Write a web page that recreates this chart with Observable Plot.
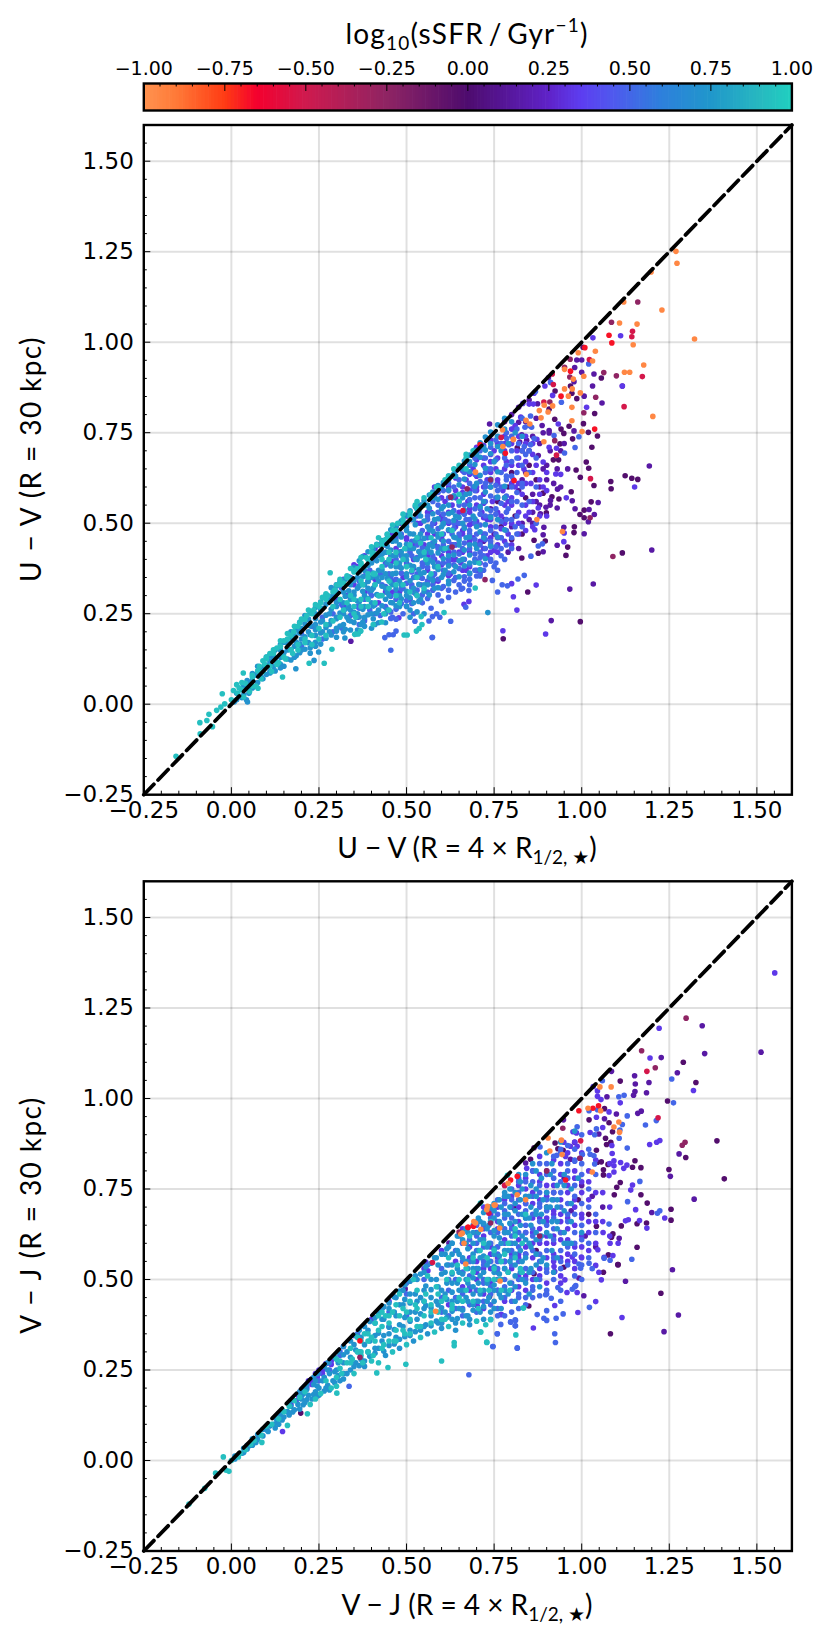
<!DOCTYPE html>
<html><head><meta charset="utf-8">
<script src="https://cdn.jsdelivr.net/npm/d3@7"></script>
<script src="https://cdn.jsdelivr.net/npm/@observablehq/plot@0.6"></script>
<style>
html,body{margin:0;padding:0;background:#fff}
#page{position:relative;width:831px;height:1642px;overflow:hidden}
#page svg{display:block}
.lab{position:absolute;font-family:Lato,"DejaVu Sans",sans-serif;font-size:28px;line-height:30px;white-space:nowrap;color:#000}
.lab sub{font-size:19px;line-height:0;vertical-align:-6px}
.lab sup{font-size:19px;line-height:0;vertical-align:12px}
</style></head><body><div id="page"></div>
<script>
const majorTicks=[-.25,0,.25,.5,.75,1,1.25,1.5];
const minorTicks=[-.2,-.15,-.1,-.05,.05,.1,.15,.2,.3,.35,.4,.45,.55,.6,.65,.7,.8,.85,.9,.95,1.05,1.1,1.15,1.2,1.3,1.35,1.4,1.45,1.55,1.6];
const barMajor=[-1,-.75,-.5,-.25,0,.25,.5,.75,1];
const barMinor=[-.95,-.9,-.85,-.8,-.7,-.65,-.6,-.55,-.45,-.4,-.35,-.3,-.2,-.15,-.1,-.05,.05,.1,.15,.2,.3,.35,.4,.45,.55,.6,.65,.7,.8,.85,.9,.95];
const colorDomain=[-1,-.9,-.75,-.65,-.5,-.25,0,.25,.35,.45,.6,.75,.9,1];
const colorRange=["#ff9350","#ff7a38","#ff3c14","#f4002e","#cf1a4e","#8f2463","#4e0c6e","#5f22c8","#5d3df0","#4f59ee","#2d80dc","#2097cb","#27b8c0","#20d0c0"];
const levelValues=[-.95,-.68,-.52,-.25,-.02,.15,.33,.5,.72,.93];

// Panel 1: U-V, flat x,y lists per sSFR level
const uvOrange=[1.269,1.251,1.272,1.218,1.198,1.194,1.12,1.111,1.229,1.089,1.108,1.053,1.158,1.05,1.322,1.009,1.147,.993,1.039,.975,.99,.971,1.031,.948,.951,.925,1.006,.906,1.122,.917,1.137,.917,1.177,.937,.976,.898,.951,.871,.973,.871,.996,.86,.962,.851,.917,.824,.893,.826,.972,.82,.879,.811,.904,.807,1.203,.795,.884,.791,.972,.783,.841,.784,.852,.774,1.001,.753,.774,.758,.805,.732,.892,.725,.775,.712,.872,.51,.945,.477,.842,.635,.805,.731,.697,.641];
const uvRed=[1.078,1.019,1.086,.998,1.009,.985,.968,.92,.941,.851,1.037,.76,.71,.717,.782,.693,.807,.618];
const uvCrimson=[1.145,1.03,1.143,1.015,1.022,.952,.916,.912,1.173,.905,.919,.883,.892,.835,1.121,.822,.77,.737,.928,.688,1.025,.623,.661,.535];
const uvMaroon=[1.16,1.111,1.085,1.055,.967,.953,.951,.931,1.063,.916,1.099,.907,.966,.904,.909,.835,1.04,.848,1.006,.805,.923,.728,1.024,.515,1.089,.408,.724,.344,.63,.434,.626,.572,.673,.595,.74,.62];
const uvDpurple=[1.004,.986,1.056,.901,.968,.879,.924,.865,.972,.859,.986,.844,.907,.815,1.037,.803,.923,.787,1.005,.775,.964,.768,.941,.76,1.019,.751,.949,.748,1.045,.741,.974,.733,.938,.719,1.029,.71,.816,.708,.934,.675,.919,.675,1.013,.669,1.02,.652,.984,.647,1.124,.631,1.143,.624,1.16,.621,.996,.627,1.083,.615,1.084,.595,1.035,.604,.97,.587,.89,.583,.935,.567,.915,.573,1.027,.559,1.007,.536,.995,.524,1.007,.515,.899,.529,.979,.49,.978,.474,.896,.451,.96,.434,.864,.453,.955,.411,.876,.417,.829,.404,1.116,.418,.846,.31,.996,.228,.776,.181,.83,.7,.85,.66,.8,.64,.87,.62,.79,.6,.84,.57,.81,.52,.77,.49,.8,.455,.83,.47,.76,.56];
const uvPurple=[.986,.951,1,.951,.98,.93,1,.917,1.035,.912,.905,.902,.978,.891,1.031,.879,1.116,.879,1.007,.851,1.058,.832,.874,.83,.82,.779,.737,.774,.887,.77,.907,.756,.978,.755,.907,.749,.829,.744,.843,.729,.823,.724,1.193,.658,.931,.594,.973,.562,.911,.563,1.047,.557,.93,.542,.898,.544,.981,.54,.882,.526,1.021,.538,1.036,.524,1.019,.504,.949,.489,.892,.489,1.007,.471,.89,.468,.93,.439,.89,.421,1.2,.426,1.033,.332,.966,.318,.913,.231,.341,.174,.876,.687,.85,.7,.89,.65,.83,.62,.86,.58,.88,.55,.82,.59,.85,.51,.83,.5,.78,.51,.82,.43,.75,.47,.79,.42,.84,.64,.86,.53,.8,.49,.78,.57,.74,.54,.72,.45,
.86,.5,.87,.56,.88,.6,.9,.66,.91,.7,.92,.61,.93,.65,.88,.72,.89,.75,.9,.62,.86,.74,.84,.78,.87,.79,.8,.8,.82,.82,.85,.84,.78,.78,.94,.7,.96,.65,.95,.72,.91,.55,.94,.6];
const uvViolet=[1.111,1.018,1.032,1.012,.895,.879,1.116,.879,.864,.859,.917,.853,.832,.831,.85,.829,.862,.829,1.014,.82,.826,.793,.933,.774,.804,.76,.872,.732,.907,.71,.928,.707,.89,.669,.926,.636,.94,.635,1.151,.6,.956,.57,.876,.542,.866,.482,.95,.473,.949,.449,.87,.329,.805,.297,.8,.333,.815,.26,.897,.194,.775,.203,.664,.276,.678,.284,.478,.239,
.33,.3,.36,.24,.39,.34,.42,.28,.44,.39,.46,.31,.47,.43,.49,.35,.5,.46,.51,.29,.52,.4,.53,.5,.54,.33,.55,.44,.56,.37,.57,.53,.58,.47,.59,.34,.6,.41,.61,.56,.62,.5,.625,.36,.63,.44,.64,.59,.65,.53,.655,.39,.66,.47,.67,.62,.675,.56,.68,.42,.685,.5,.69,.65,.7,.59,.7,.37,.71,.45,.715,.53,.72,.68,.73,.62,.73,.41,.74,.49,.745,.56,.75,.7,.755,.65,.76,.44,.77,.52,.775,.59,.78,.74,.785,.67,.79,.47,.8,.55,.805,.62,.81,.77,.815,.7,.82,.5,.83,.58,.835,.65,.84,.74,.85,.53,.855,.61,.86,.69,
.3,.31,.36,.38,.42,.44,.47,.49,.53,.54,.58,.6,.64,.645,.7,.71,.6,.52,.64,.49,.68,.53,.72,.58,.76,.62,.66,.585,.7,.63,.74,.67,.63,.4,.67,.37,.71,.39,.75,.425,.79,.56,.82,.66,.6,.46,.63,.55,.65,.42,.69,.46,.73,.51,.77,.485,.81,.6,.84,.55,.87,.66,.89,.6];
const uvBlue=[1.02,.94,.911,.889,.868,.864,.942,.834,.854,.796,.857,.765,.838,.765,.921,.742,.992,.739,.864,.734,.786,.734,.792,.717,.854,.717,.836,.712,.981,.709,.951,.694,.855,.409,.888,.443,.876,.437,.836,.356,.818,.346,.788,.327,.773,.33,.76,.31,.626,.229,.573,.184,.455,.149,.47,.202,.438,.184,.45,.192,.462,.192,.524,.229,.564,.23,.595,.24,.574,.242,.586,.25,.455,.237,.669,.268,.656,.318,.678,.314,.7,.354,.71,.354,.745,.342,.574,.185,
.36,.27,.38,.23,.4,.3,.41,.25,.43,.33,.44,.27,.45,.36,.46,.24,.47,.29,.48,.38,.49,.32,.5,.27,.51,.42,.52,.35,.53,.3,.54,.45,.55,.39,.56,.31,.57,.49,.58,.36,.59,.43,.6,.32,.61,.51,.62,.39,.63,.47,.64,.35,.65,.56,.66,.43,.67,.51,.68,.36,.69,.6,.7,.47,.71,.54,.72,.41,.73,.65,.74,.52,.75,.38,.76,.59,.77,.46,.78,.68,.79,.54,.8,.63,.81,.49,.82,.72,.83,.61,.84,.69,.85,.77,
.545,.38,.575,.41,.605,.44,.635,.5,.665,.55,.695,.57,.725,.61,.755,.54,.785,.62,.815,.56,.56,.52,.59,.55,.62,.59,.65,.47,.68,.47,.71,.42,.74,.44,.77,.41,.8,.7,.83,.79,.515,.33,.545,.28,.575,.33,.605,.37,.635,.42,.665,.34,.695,.4,.725,.47,.755,.49,.785,.51,
.57,.265,.6,.285,.62,.295,.64,.31,.66,.32,.68,.33,.72,.37,.74,.395,.76,.37,.78,.4,.8,.43,.52,.25,.49,.25,.47,.235];
const uvAzure=[.008,.006,.03,.018,.046,.006,.043,.012,.03,.04,.05,.03,.05,.06,.07,.05,.07,.08,.09,.07,.09,.1,.11,.09,.11,.12,.12,.105,.12,.13,.14,.1,.14,.13,.14,.15,.16,.125,.16,.15,.16,.17,.184,.098,.18,.13,.18,.16,.18,.19,.2,.15,.2,.18,.2,.21,.225,.141,.236,.121,.22,.17,.22,.2,.22,.235,.249,.144,.24,.16,.24,.19,.24,.22,.24,.25,.26,.2,.26,.23,.26,.265,.28,.2,.28,.22,.28,.25,.28,.29,.3,.21,.3,.24,.3,.27,.3,.31,.324,.183,.32,.22,.32,.25,.32,.28,.32,.31,.34,.23,.34,.26,.34,.29,.34,.33,.36,.25,.36,.285,.36,.32,.36,.35,.38,.24,.38,.27,.38,.3,.38,.33,.38,.37,.4,.25,.4,.28,.4,.315,.4,.35,.4,.39,.42,.26,.42,.3,.42,.34,.42,.37,.42,.41,.44,.25,.44,.29,.44,.32,.44,.36,.44,.42,.46,.28,.46,.33,.46,.36,.46,.41,.46,.45,.48,.27,.48,.3,.48,.34,.48,.39,.48,.44,.48,.47,.5,.3,.5,.36,.5,.41,.5,.43,.5,.49,.52,.28,.52,.32,.52,.38,.52,.43,.52,.47,.52,.51,.54,.29,.54,.36,.54,.41,.54,.47,.54,.52,.54,.55,.56,.33,.56,.39,.56,.43,.56,.49,.56,.55,.58,.32,.58,.38,.58,.45,.58,.51,.58,.57,.6,.35,.6,.43,.6,.49,.6,.54,.6,.6,.62,.34,.62,.41,.62,.55,.62,.62,.64,.38,.64,.46,.64,.52,.64,.63,.66,.4,.66,.5,.66,.57,.66,.65,.68,.39,.68,.44,.68,.55,.68,.67,.7,.43,.7,.49,.7,.61,.7,.69,.72,.46,.72,.56,.72,.71,.74,.6,.74,.72,.76,.51,.76,.74,.78,.57,.78,.76,.8,.78,.732,.253,.605,.5,.63,.57,.67,.46,.73,.54,.75,.67,.77,.7,.79,.72,.81,.75,.83,.74,.33,.24,.35,.31,.37,.22,.39,.32,.41,.22,.43,.35,.45,.3,.47,.38,.49,.41,.51,.26,.53,.4,.55,.33,.57,.42,.59,.47,.61,.37,.63,.53,.65,.44,.67,.58,.69,.52,
.3,.185,.32,.2,.34,.205,.36,.205,.38,.215,.4,.21,.42,.225,.44,.225,.51,.24,.53,.255,.55,.25];
const uvTeal=[-.158,-.144,-.089,-.082,-.09,-.051,-.054,-.062,-.07,-.045,-.064,-.028,-.042,-.017,-.026,.029,-.03,-.008,-.019,.001,.006,.038,.015,.054,.034,.086,.076,.044,.146,.075,.222,.113,.265,.113,.287,.152,.282,.363,.352,.193,.362,.194,.369,.202,.493,.191,.502,.191,.528,.202,.536,.209,.544,.22,.542,.242,.607,.253,.429,.227,.405,.22,.369,.202,.355,.194,.696,.321,.707,.39,
0,.012,.018,.03,.022,.045,.035,.02,.04,.058,.052,.035,.06,.075,.07,.05,.075,.092,.085,.07,.095,.11,.1,.125,.115,.09,.12,.14,.135,.115,.14,.16,.155,.125,.16,.18,.175,.14,.178,.2,.19,.165,.195,.225,.21,.18,.215,.245,.23,.165,.235,.26,.25,.21,.255,.28,.27,.19,.275,.3,.29,.23,.295,.315,.31,.335,.32,.26,.33,.355,.34,.3,.35,.37,.355,.24,.37,.39,.375,.33,.385,.405,.39,.27,.4,.42,.405,.36,.415,.44,.42,.3,.43,.45,.435,.25,.445,.47,.45,.34,.46,.48,.47,.39,.475,.5,.48,.28,.49,.51,.495,.43,.51,.53,.515,.37,.525,.55,.53,.3,.54,.445,.55,.57,.555,.4,.57,.58,.585,.6,.6,.47,.62,.63,.635,.65,.65,.56,.67,.68,.69,.7,.45,.4,.43,.38,.41,.33,.47,.33,.5,.38,.39,.36,.37,.29,.35,.27,.34,.345,.44,.455,.4,.405,.36,.375,.32,.335,
.08,.105,.12,.15,.16,.195,.2,.235,.24,.275,.27,.305,.31,.345,.34,.375,.37,.405,.4,.435,.42,.46,.46,.495,.49,.525,.53,.56,.3,.33,.26,.295,.22,.26,.18,.215,.14,.175,.1,.13];
// Panel 1, dense core read column by column: [x, y, y, ...]
const uvAzureCols=[[.015,.012,.03],[.035,.025,.05],[.045,.045,.065],[.06,.045,.066,.085],[.075,.06,.087,.105],[.085,.076,.1],[.1,.082,.107,.13],[.11,.086,.112,.135],[.125,.092,.121,.15],[.14,.11,.136,.165],[.15,.105,.142,.171],[.17,.122,.151,.183,.2],[.185,.134,.172,.205],[.195,.142,.166,.197,.226],[.21,.152,.186,.222,.245],[.225,.156,.192,.216,.252],[.24,.171,.206,.236,.267],[.255,.166,.197,.227,.261,.282],[.27,.182,.212,.246,.276,.301],[.285,.191,.231,.262,.296,.322],[.3,.202,.236,.281,.326],[.31,.216,.252,.287,.338],[.325,.207,.262,.298,.345],[.335,.232,.271,.313,.352],[.35,.226,.254,.301,.342,.378],[.365,.241,.283,.327,.366,.396],[.375,.226,.262,.312,.352,.408],[.39,.247,.292,.339,.383,.421],[.405,.236,.271,.321,.362,.428],[.415,.252,.303,.351,.396,.442],[.43,.272,.326,.371,.414,.452],[.445,.261,.309,.347,.392,.436,.468],[.455,.281,.336,.382,.426,.482],[.47,.272,.318,.362,.411,.451,.492],[.485,.291,.329,.376,.422,.462,.506],[.5,.271,.312,.352,.398,.442,.48,.522],[.51,.294,.341,.384,.431,.471,.534],[.525,.306,.351,.401,.452,.496,.546],[.535,.284,.331,.372,.422,.462,.532],[.55,.312,.364,.412,.458,.506,.562],[.565,.302,.351,.398,.441,.482,.541,.578],[.575,.342,.392,.436,.478,.526,.586],[.59,.322,.372,.418,.462,.512,.566,.604],[.605,.358,.402,.451,.498,.546,.612],[.62,.332,.382,.432,.482,.526,.592,.63],[.635,.366,.412,.462,.508,.576,.636],[.65,.352,.396,.452,.516,.606,.652],[.665,.382,.426,.486,.536,.622,.672],[.68,.362,.412,.462,.582,.642,.688],[.695,.392,.442,.512,.602,.662,.702],[.71,.372,.476,.546,.632,.682,.722],[.725,.402,.496,.586,.652,.702,.738],[.74,.436,.516,.622,.692,.752],[.76,.462,.572,.642,.712,.772],[.78,.482,.602,.692,.79]];
const uvBlueCols=[[.2,.16,.195],[.23,.165,.215],[.26,.18,.24],[.29,.2,.25,.3],[.315,.21,.275,.32],[.34,.245,.3,.35],[.365,.22,.265,.34],[.38,.235,.29,.355],[.395,.26,.31,.37],[.41,.275,.33,.4],[.425,.245,.3,.36,.42],[.44,.268,.325,.385],[.455,.255,.298,.35,.41],[.47,.262,.305,.345,.4,.46],[.485,.278,.318,.362,.41,.47],[.5,.286,.334,.384,.43,.5],[.515,.278,.322,.365,.41,.45,.51],[.53,.315,.36,.405,.44,.52],[.545,.302,.348,.39,.432,.48,.55],[.56,.292,.338,.378,.42,.46,.51],[.575,.315,.355,.402,.446,.5,.56],[.59,.302,.345,.39,.435,.485,.53,.585],[.605,.325,.39,.425,.47,.525,.59],[.62,.315,.362,.4,.45,.505,.57,.61],[.635,.342,.385,.44,.485,.535,.6],[.65,.33,.375,.415,.46,.5,.55,.62],[.665,.352,.4,.445,.49,.525,.58,.64],[.68,.345,.385,.43,.48,.51,.565,.61,.66],[.695,.37,.415,.455,.5,.54,.59,.635,.68],[.71,.36,.405,.44,.495,.525,.57,.615,.7],[.725,.385,.43,.455,.52,.56,.6,.64,.68],[.74,.4,.45,.48,.535,.575,.615,.65,.71],[.755,.39,.435,.47,.525,.57,.605,.675,.73],[.77,.43,.46,.505,.555,.6,.64,.72],[.785,.44,.48,.53,.575,.63,.66,.75],[.8,.46,.51,.56,.6,.67,.74],[.815,.47,.52,.585,.64,.68,.76],[.83,.49,.55,.6,.66,.7],[.85,.56,.64,.7],[.87,.5,.6,.68]];
const uvVioletCols=[[.3,.29,.33],[.32,.27,.345],[.35,.33,.385],[.38,.31,.41],[.41,.345,.43],[.44,.31,.44],[.46,.34,.395,.47],[.48,.31,.42,.5],[.5,.39,.455,.52],[.52,.31,.375,.44],[.54,.35,.42,.5],[.56,.34,.41,.47,.53],[.58,.34,.4,.44,.5,.58],[.6,.385,.455,.51,.57],[.62,.355,.42,.48,.53,.6],[.64,.4,.44,.505,.57,.625],[.66,.37,.42,.48,.53,.6,.645],[.68,.38,.45,.495,.54,.59,.635],[.7,.395,.44,.505,.55,.6,.675],[.72,.43,.47,.515,.555,.6,.66,.715],[.74,.42,.46,.51,.6,.64,.69,.73],[.76,.42,.46,.53,.57,.61,.68,.72],[.78,.45,.5,.55,.6,.65,.7,.72],[.8,.44,.5,.57,.61,.66,.72,.76],[.82,.47,.53,.61,.68,.74],[.84,.48,.52,.61,.67,.72],[.86,.49,.56,.64,.72],[.88,.52,.58,.62],[.9,.52,.59,.64]];
const uvTealCols=[[.03,.04,.06],[.06,.08,.05],[.09,.09,.12],[.11,.105,.14],[.13,.11,.155],[.15,.13,.175],[.17,.15,.19],[.19,.15,.215],[.21,.17,.235],[.23,.19,.25],[.25,.18,.27],[.27,.22,.29],[.29,.27,.31],[.31,.24,.29,.33],[.33,.28,.35],[.35,.25,.29,.365],[.37,.27,.34,.385],[.39,.29,.35,.4],[.41,.28,.36,.415],[.43,.3,.4,.44],[.45,.26,.32,.42,.46],[.47,.3,.42,.48],[.49,.33,.4,.5],[.51,.31,.44,.52],[.53,.35,.46,.54],[.55,.32,.42,.55],[.57,.36,.46,.57],[.59,.38,.6],[.61,.43,.62],[.63,.48,.63],[.65,.58,.66],[.67,.65,.69]];

// Panel 2: V-J
const vjOrange=[1.052,1.032,1.084,1.032,1.018,.973,1.054,.966,1.106,.935,1.092,.921,1.108,.907,.904,.891,.942,.885,.909,.855,.944,.845,1.03,.797,.655,.625,.697,.656,.729,.693,.731,.702,.712,.639,.766,.642,.753,.706,.669,.543,.767,.496,.583,.412,.692,.66,.79,.766,.816,.734,.75,.706,.659,.628,.664,.6,.84,.72];
const vjRed=[.992,.966,1.032,.973,1.048,.98,.954,.775,.676,.644,.691,.647,.675,.644,.816,.785,.797,.775,.367,.331];
const vjCrimson=[1.186,1.075,.997,.883,1.218,.947,.574,.547,.735,.683,.78,.76];
const vjMaroon=[1.298,1.222,1.171,1.132,1.21,1.085,.946,.918,1.287,.871,1.295,.879,.65,.631,.74,.656,.367,.285,.995,.835,.9,.8,.88,.62];
const vjDpurple=[1.29,1.1,1.11,1.048,1.326,1.044,1.245,.993,1.065,.972,1.021,.941,1.078,.933,1.088,.908,1.068,.89,.98,.879,1.083,.879,1.071,.873,1.386,.883,.864,.864,.924,.877,.932,.861,.947,.857,1.042,.857,1.297,.837,.854,.832,.995,.835,1.152,.828,1.056,.825,1.045,.824,1.075,.818,1.145,.81,1.169,.809,1.249,.804,1.407,.778,1.062,.803,1.062,.789,1.11,.768,1.1,.755,1.169,.734,1.093,.734,1.187,.711,1.255,.694,1.255,.664,1.113,.648,1.158,.654,1.185,.656,1.042,.647,1.089,.626,1.085,.617,1.158,.589,1.076,.568,1.104,.541,1.062,.52,1.103,.541,1.226,.462,1.082,.35,.949,.534,.849,.427,.737,.453,.864,.516,.198,.131,.807,.697,.9,.7,.94,.63,.99,.72,1.02,.68,.87,.58];
const vjPurple=[1.512,1.128,1.344,1.201,1.351,1.124,1.227,1.113,1.273,1.071,1.085,1.075,1.151,1.063,1.153,1.04,1.192,1.044,1.152,1.019,1.148,1.009,1.185,1.016,1.072,1.005,1.099,.957,1.16,.959,1.17,.965,1.065,.944,.948,.941,1.049,.902,1.278,.847,.84,.822,.968,.832,1.253,.785,1.321,.722,1.2,.685,1.107,.614,1.259,.527,1.125,.495,1.276,.402,1.235,.356,1.006,.455,.992,.504,.621,.601,.496,.474,.95,.78,1.0,.76,.92,.74,.97,.69,1.03,.73,1.06,.7,1.01,.62,1.04,.59];
const vjViolet=[1.551,1.347,1.221,1.194,1.195,1.112,1.319,1.022,1.033,1.033,1.045,1.021,1.045,1.006,1.055,.997,1.11,.988,1.078,.963,1.042,.948,1.024,.906,.975,.908,.985,.905,1.086,.87,1.194,.873,1.214,.879,1.223,.884,.949,.879,.968,.868,.987,.868,1.087,.848,.843,.807,.954,.84,1.092,.828,1.111,.823,1.129,.816,1.092,.814,1.12,.807,1.078,.787,1.092,.797,1.145,.761,1.14,.747,1.154,.693,1.237,.67,1.125,.662,1.133,.665,1.165,.663,1.186,.642,1.061,.63,1.081,.6,1.104,.6,1.046,.582,1.089,.566,1.04,.539,1.049,.52,1.064,.561,1.056,.499,.973,.562,.999,.562,.921,.536,.923,.522,.952,.499,1.115,.395,1.04,.439,.989,.409,.987,.464,.958,.464,.923,.428,.862,.366,.771,.403,.702,.427,.769,.403,.146,.08,.555,.548,.561,.524,.434,.424,
.21,.205,.22,.22,.23,.225,.24,.24,.25,.25,.2,.195,.19,.18,.26,.255,.27,.268,.185,.165,.32,.315,.35,.345,.4,.39,.45,.44,.55,.53,.6,.58,.66,.64,.72,.7,.78,.76,
.62,.43,.66,.48,.7,.52,.74,.57,.78,.61,.82,.66,.86,.71,.9,.76,.94,.82,.64,.55,.68,.59,.72,.62,.76,.66,.8,.7,.84,.75,.88,.79,.92,.69,.96,.74,.98,.8,.76,.47,.8,.53,.84,.59,.88,.64,.92,.6,.96,.64,1,.67,1.02,.77,.84,.47,.88,.51,.92,.55,.96,.57,1,.59,1.02,.63,.9,.49,.94,.51,.98,.55,.72,.42,.78,.44,.82,.51,.86,.56,.9,.6,.94,.68,.98,.7,1,.74,.7,.5,.74,.53,.78,.53,.82,.57,.86,.63,.9,.67];
const vjBlue=[1.257,1.054,1.059,1.049,1.106,1.005,1.121,1.009,1.262,.988,1.021,.966,1.045,.969,1.13,.952,1.213,.939,1.182,.927,.987,.922,1.116,.928,1.109,.913,1.042,.916,1.037,.9,1.107,.89,1.13,.863,.881,.866,1.024,.846,1.035,.842,.929,.843,1.002,.845,.98,.827,1.037,.819,1.166,.771,1.131,.715,1.216,.683,1.223,.69,1.078,.653,1.064,.559,1.081,.553,1.143,.556,1.021,.545,.992,.543,.997,.531,1.022,.423,.983,.483,.973,.473,.932,.478,.947,.405,.927,.393,.923,.35,.925,.326,.9,.414,.9,.387,.892,.393,.873,.403,.816,.311,.759,.35,.746,.315,.797,.383,.811,.387,.811,.372,.769,.376,.897,.458,.913,.448,.678,.237,.336,.205,.747,.315,.816,.31,.759,.35,.81,.372,.797,.382,.81,.389,
.7,.44,.74,.46,.78,.48,.82,.45,.86,.48,.9,.52,.94,.55,.98,.6,.66,.42,.7,.58,.74,.63,.78,.67,.82,.72,.86,.77,.9,.82,.94,.85,.98,.86,1,.9,.76,.55,.8,.6,.84,.65,.88,.7,.92,.74,.96,.78,1,.82,.72,.5,.76,.59,.8,.64,.84,.69,.88,.74,.92,.78,.96,.82,.6,.41,.64,.45,.68,.51,.72,.55,.76,.52,.8,.56,.84,.53,.88,.57,.92,.64,.96,.68,.98,.76,.62,.5,.66,.55,.7,.62,.74,.67,.78,.71,.82,.77,.86,.62,.9,.72,.94,.74,.36,.35,.43,.42,.5,.49,.56,.54,
.76,.4,.78,.4,.8,.41,.82,.42,.84,.43,.86,.45,.88,.455,.9,.46,.94,.44,.98,.48,1,.5,1.03,.53];
const vjAzure=[.03,.02,.05,.04,.07,.05,.08,.07,.1,.085,.11,.095,.12,.1,.13,.11,.14,.125,.15,.12,.16,.135,.17,.15,.18,.14,.19,.155,.2,.17,.21,.16,.22,.18,.23,.17,.24,.19,.24,.22,.25,.2,.26,.22,.27,.2,.28,.24,.29,.22,.3,.25,.31,.22,.32,.27,.33,.24,.33,.3,.35,.26,.35,.32,.37,.28,.37,.34,.39,.3,.39,.36,.41,.31,.41,.38,.43,.33,.43,.39,.45,.35,.45,.42,.47,.34,.47,.4,.47,.45,.49,.37,.49,.43,.49,.47,.51,.36,.51,.41,.51,.46,.53,.39,.53,.44,.53,.5,.55,.37,.55,.42,.55,.47,.55,.52,.57,.4,.57,.45,.57,.5,.59,.38,.59,.43,.59,.48,.59,.54,.61,.41,.61,.46,.61,.52,.61,.57,.63,.39,.63,.44,.63,.49,.63,.54,.63,.6,.65,.42,.65,.47,.65,.52,.65,.57,.65,.62,.67,.4,.67,.45,.67,.5,.67,.55,.67,.6,.67,.64,.69,.43,.69,.48,.69,.53,.69,.57,.69,.63,.71,.41,.71,.46,.71,.51,.71,.56,.71,.61,.71,.66,.73,.44,.73,.49,.73,.54,.73,.59,.73,.64,.73,.69,.75,.42,.75,.47,.75,.52,.75,.57,.75,.62,.75,.67,.75,.71,.77,.45,.77,.5,.77,.55,.77,.6,.77,.65,.77,.7,.79,.46,.79,.52,.79,.58,.79,.63,.79,.68,.79,.73,.81,.48,.81,.54,.81,.6,.81,.66,.81,.71,.83,.5,.83,.55,.83,.62,.83,.68,.83,.75,.85,.52,.85,.6,.85,.67,.85,.73,.87,.54,.87,.61,.87,.69,.87,.75,.89,.56,.89,.66,.89,.72,.91,.62,.91,.7,.91,.79,.93,.66,.93,.72,.95,.6,.95,.76,.97,.71,.99,.78,.88,.48,.92,.52,.96,.6,1.0,.63,.77,.42,.74,.41,.68,.39,.64,.38,.81,.44,.85,.46,
.58,.56,.62,.59,.66,.63,.7,.66,.74,.7,.78,.74,.82,.79,.86,.82,.9,.85,.94,.88,.98,.91,
.44,.29,.48,.31,.52,.33,.56,.35,.6,.365,.64,.36,.68,.375,.72,.39,.74,.39,.25,.18,.28,.195,.32,.225,.38,.26];
const vjTeal=[-.121,-.12,-.076,-.077,-.045,-.035,-.023,.01,-.007,-.03,-.015,-.027,.02,.01,.087,.05,.217,.129,.16,.097,.301,.186,.415,.242,.447,.257,.498,.266,.6,.275,.636,.317,.636,.326,.712,.355,.729,.326,.812,.347,.834,.421,.711,.711,.788,.788,.711,.355,.729,.327,.726,.375,.74,.389,.833,.421,
0,0,.015,.012,.025,.02,.04,.03,.055,.045,.065,.055,.085,.07,.1,.095,.115,.1,.135,.115,.15,.135,.165,.15,.18,.165,.195,.175,.21,.19,.225,.155,.24,.17,.255,.185,.27,.22,.285,.2,.3,.23,.315,.24,.33,.27,.345,.28,.36,.3,.375,.27,.39,.33,.405,.29,.42,.36,.435,.32,.45,.38,.465,.33,.48,.4,.495,.35,.51,.39,.525,.43,.54,.37,.555,.46,.57,.41,.585,.48,.6,.39,.6,.44,.615,.5,.63,.42,.645,.54,.66,.44,.675,.5,.69,.56,.705,.42,.72,.6,.735,.47,.75,.53,.765,.5,.78,.57,.795,.47,.81,.62,.825,.53,.84,.68,.3,.28,.36,.34,.42,.4,.48,.46,.52,.5,.37,.3,.43,.37,.5,.41,.56,.51,.62,.56,.68,.62,.74,.66,.44,.4,.46,.41,.38,.35,.4,.34,.47,.36,.53,.47,
.42,.27,.46,.3,.5,.32,.54,.34,.58,.355,.62,.37,.66,.38,.7,.385,.3,.205,.35,.24,.4,.275];
// Panel 2, dense core read column by column: [x, y, y, ...]
const vjAzureCols=[[.01,.004,.012],[.035,.022,.034],[.045,.032,.042],[.06,.042,.06],[.075,.058,.072],[.09,.068,.086],[.105,.08,.1],[.125,.09,.118],[.135,.1,.13],[.145,.112,.14],[.165,.126,.158],[.175,.134,.168],[.195,.142,.172,.19],[.205,.154,.184,.2],[.215,.168,.196,.21],[.235,.182,.21,.23],[.245,.178,.206,.24],[.265,.192,.23,.26],[.275,.208,.25,.27],[.295,.215,.245,.285],[.305,.235,.27,.3],[.32,.24,.292,.315],[.34,.25,.285,.33],[.355,.27,.305,.345],[.365,.262,.3,.36],[.38,.275,.32,.37],[.395,.288,.33,.384],[.41,.296,.345,.395],[.42,.31,.352,.408],[.435,.302,.345,.39,.425],[.45,.318,.368,.435],[.465,.322,.362,.41,.452],[.48,.335,.375,.43,.468],[.495,.342,.395,.445,.485],[.51,.345,.385,.435,.495],[.525,.356,.41,.46,.51],[.54,.36,.405,.45,.515],[.555,.375,.428,.482,.535],[.57,.372,.422,.472,.545],[.585,.385,.44,.5,.56],[.6,.38,.422,.47,.515,.57],[.615,.395,.445,.49,.54,.585],[.63,.412,.465,.515,.57,.6],[.645,.392,.44,.49,.53,.58,.62],[.66,.415,.47,.515,.56,.61],[.675,.4,.44,.49,.53,.585,.63],[.69,.415,.46,.505,.55,.6,.65],[.705,.44,.49,.53,.58,.63,.67],[.72,.425,.47,.52,.565,.61,.655,.685],[.735,.45,.5,.55,.6,.65,.7],[.75,.44,.485,.535,.585,.635,.69],[.765,.46,.515,.565,.615,.66,.72],[.78,.47,.53,.58,.63,.68,.73],[.795,.49,.55,.6,.655,.7,.75],[.81,.51,.57,.63,.69,.74],[.825,.52,.58,.65,.72,.77],[.84,.49,.56,.61,.67,.73,.79],[.855,.53,.59,.65,.7,.76],[.87,.5,.57,.63,.68,.73,.8],[.885,.55,.62,.68,.78],[.9,.54,.63,.7,.74],[.915,.58,.66,.72,.82],[.93,.56,.64,.7,.76],[.95,.63,.69,.79],[.97,.6,.66,.75]];
const vjBlueCols=[[.6,.38,.45,.53],[.62,.4,.47,.54],[.64,.42,.5,.58],[.66,.4,.46,.52,.6],[.68,.43,.48,.55,.61],[.7,.41,.47,.53,.6,.65],[.72,.44,.49,.54,.59,.65],[.74,.43,.48,.55,.6,.66,.69],[.76,.42,.47,.53,.57,.63,.68,.72],[.78,.45,.5,.55,.6,.64,.69,.73],[.8,.44,.49,.54,.58,.62,.67,.72,.75],[.82,.46,.5,.55,.59,.63,.68,.74,.78],[.84,.45,.5,.57,.63,.67,.71,.77],[.86,.47,.52,.58,.64,.68,.73,.8],[.88,.5,.55,.61,.66,.71,.76,.82],[.9,.47,.53,.58,.65,.69,.74,.79],[.92,.5,.56,.61,.67,.72,.8,.84],[.94,.47,.53,.58,.63,.7,.77,.86],[.96,.54,.59,.66,.71,.8,.87],[.98,.51,.57,.63,.68,.73,.83],[1,.54,.61,.65,.71,.79],[1.02,.56,.6,.7,.75,.86],[1.04,.63,.68,.79],[.25,.22,.24],[.28,.25,.27],[.31,.29,.3],[.45,.37,.41],[.5,.4,.46],[.55,.44,.5]];
const vjVioletCols=[[.17,.155,.165],[.2,.18,.19],[.215,.2,.205],[.23,.21,.22],[.245,.23,.235],[.26,.24,.25],[.285,.265,.275],[.66,.52,.6],[.68,.47,.56],[.7,.47,.55,.63],[.72,.46,.53,.64],[.74,.49,.59,.68],[.76,.5,.56,.64,.7],[.78,.47,.55,.63,.72],[.8,.47,.57,.65,.73],[.82,.48,.56,.61,.7,.76],[.84,.51,.57,.63,.71,.78],[.86,.5,.6,.67,.74,.8],[.88,.53,.6,.67,.72,.77,.84],[.9,.56,.62,.66,.73,.8],[.92,.52,.57,.62,.68,.76,.83],[.94,.49,.56,.61,.66,.72,.79],[.96,.55,.61,.67,.76,.85],[.98,.53,.59,.65,.72,.78,.88],[1,.56,.62,.68,.77,.85],[1.02,.58,.66,.72,.8],[1.04,.6,.66,.74,.83],[1.06,.66,.74,.92],[1.08,.62,.7,.82]];
const vjTealCols=[[.31,.255,.275],[.34,.27,.31],[.37,.29,.33],[.39,.3,.35],[.41,.33,.38],[.43,.31,.41],[.45,.33,.4],[.47,.33,.43],[.49,.36,.42],[.51,.35,.44],[.53,.37,.42],[.55,.4,.44],[.57,.38,.43],[.59,.41,.46],[.61,.39,.45],[.63,.43,.52],[.65,.45,.5],[.67,.47,.53],[.69,.44,.52],[.71,.47,.58],[.73,.5,.56],[.75,.5,.58],[.77,.47,.55],[.79,.52,.6],[.81,.56,.64],[.83,.6,.52]];

function rows(pairs,level){const out=[];for(let i=0;i+1<pairs.length;i+=2)out.push({x:pairs[i],y:pairs[i+1],s:level});return out;}
function colRows(cols,level){return cols.flatMap(c=>c.slice(1).map(y=>({x:c[0],y,s:level})));}
function build(list,extra){
  // low sSFR first, star-forming on top, then the few red / orange points
  return [4,5].flatMap(i=>rows(list[i],levelValues[i]))
    .concat(rows(list[6],levelValues[6]),colRows(extra[0],levelValues[6]))
    .concat(rows(list[7],levelValues[7]),colRows(extra[1],levelValues[7]))
    .concat(colRows(extra[2],levelValues[8]),rows(list[8],levelValues[8]))
    .concat(colRows(extra[3],levelValues[9]),rows(list[9],levelValues[9]))
    .concat([3,2,1,0].flatMap(i=>rows(list[i],levelValues[i])));
}
const uvAll=build([uvOrange,uvRed,uvCrimson,uvMaroon,uvDpurple,uvPurple,uvViolet,uvBlue,uvAzure,uvTeal],[uvVioletCols,uvBlueCols,uvAzureCols,uvTealCols]);
const vjAll=build([vjOrange,vjRed,vjCrimson,vjMaroon,vjDpurple,vjPurple,vjViolet,vjBlue,vjAzure,vjTeal],[vjVioletCols,vjBlueCols,vjAzureCols,vjTealCols]);

const colorScale={type:"linear",domain:colorDomain,range:colorRange,clamp:true};
const fmt=d3.format(".2f");
const identity=[-.25,1.6];

function panel(data,height,marginTop,marginBottom){
  const xTick=(vals,len)=>Plot.ruleX(vals,{x:d=>d,y1:()=>-.25,y2:()=>-.25+len/362,stroke:"#000",strokeWidth:1});
  const yTick=(vals,len)=>Plot.ruleY(vals,{y:d=>d,x1:()=>-.25,x2:()=>-.25+len/350.4,stroke:"#000",strokeWidth:1});
  return Plot.plot({
    width:831,height,marginLeft:143.3,marginRight:39.6,marginTop,marginBottom,
    style:{fontFamily:"'DejaVu Sans',sans-serif",background:"#fff",overflow:"visible"},
    x:{domain:[-.25,1.6],label:null},y:{domain:[-.25,1.6],label:null},
    color:colorScale,
    marks:[
      Plot.gridX(majorTicks,{stroke:"#000",strokeOpacity:.12,strokeWidth:2}),
      Plot.gridY(majorTicks,{stroke:"#000",strokeOpacity:.12,strokeWidth:2}),
      Plot.dot(data,{x:"x",y:"y",fill:"s",r:2.8}),
      Plot.line(identity,{x:d=>d,y:d=>d,stroke:"#000",strokeWidth:3.8,strokeDasharray:"14.5,6"}),
      xTick(majorTicks,7),xTick(minorTicks,3.5),yTick(majorTicks,7),yTick(minorTicks,3.5),
      Plot.axisX(majorTicks,{tickSize:0,tickPadding:7,tickFormat:fmt,fontSize:23,label:null}),
      Plot.axisY(majorTicks,{tickSize:0,tickPadding:10,tickFormat:fmt,fontSize:23,label:null}),
      Plot.frame({stroke:"#000",strokeWidth:2.4})
    ]
  });
}
function colorbar(){
  const steps=d3.range(-1,1,.01);
  return Plot.plot({
    width:831,height:120,marginLeft:143.3,marginRight:39.6,marginTop:83,marginBottom:10,
    style:{fontFamily:"'DejaVu Sans',sans-serif",background:"#fff",overflow:"visible"},
    x:{domain:[-1,1],label:null},y:{domain:[0,1],axis:null},
    color:colorScale,
    marks:[
      Plot.rect(steps,{x1:d=>d,x2:d=>d+.012,y1:()=>0,y2:()=>1,fill:d=>d+.005}),
      Plot.ruleX(barMajor,{x:d=>d,y1:()=>1,y2:()=>1-8/27,stroke:"#000",strokeWidth:1}),
      Plot.ruleX(barMinor,{x:d=>d,y1:()=>1,y2:()=>1-3.5/27,stroke:"#000",strokeWidth:1}),
      Plot.axisX(barMajor,{anchor:"top",tickSize:0,tickPadding:9,tickFormat:fmt,fontSize:19,label:null}),
      Plot.frame({stroke:"#000",strokeWidth:2.4})
    ]
  });
}
const page=document.getElementById("page");
page.append(colorbar(),panel(uvAll,755,4.5,80.8),panel(vjAll,767,5.8,91.5));
function label(html,css){const d=document.createElement("div");d.className="lab";d.innerHTML=html;Object.assign(d.style,css);page.append(d);}
label('log<sub>10</sub>(sSFR&#8201;/&#8201;Gyr<sup>−1</sup>)',{left:"467px",top:"18px",transform:"translateX(-50%)",letterSpacing:"1.2px"});
label('U − V&nbsp;(R = 4 × R<sub>1/2, ★</sub>)',{left:"467px",top:"832px",transform:"translateX(-50%)"});
label('V − J&nbsp;(R = 4 × R<sub>1/2, ★</sub>)',{left:"467px",top:"1589px",transform:"translateX(-50%)"});
label('U − V (R = 30 kpc)',{left:"30px",top:"459px",transform:"translate(-50%,-50%) rotate(-90deg)",letterSpacing:"1.4px"});
label('V − J (R = 30 kpc)',{left:"30px",top:"1215px",transform:"translate(-50%,-50%) rotate(-90deg)",letterSpacing:"1.4px"});
</script></body></html>
